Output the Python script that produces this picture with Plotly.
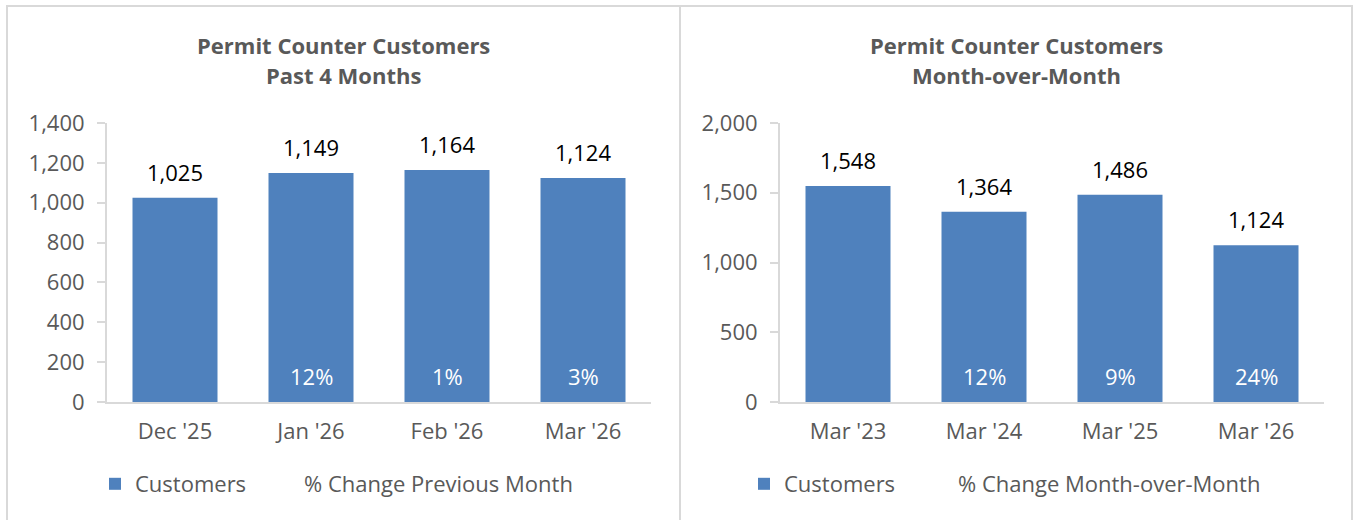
import plotly.graph_objects as go

# ---- data ----
left_categories = ["Dec '25", "Jan '26", "Feb '26", "Mar '26"]
left_customers = [1025, 1149, 1164, 1124]
left_pct_labels = ["", "12%", "1%", "3%"]

right_categories = ["Mar '23", "Mar '24", "Mar '25", "Mar '26"]
right_customers = [1548, 1364, 1486, 1124]
right_pct_labels = ["", "12%", "9%", "24%"]

left_title = ["Permit Counter Customers", "Past 4 Months"]
right_title = ["Permit Counter Customers", "Month-over-Month"]
left_pct_name = "% Change Previous Month"
right_pct_name = "% Change Month-over-Month"

left_range = [0, 1400]
left_dtick = 200
right_range = [0, 2000]
right_dtick = 500

# ---- style ----
BAR = "#4F81BD"
GRAY_TXT = "#595959"
AXIS = "#D9D9D9"
FONT = "Open Sans"
FS = 22
W, H = 1353, 520

fig = go.Figure()

panels = [
    dict(cats=left_categories, vals=left_customers, pct=left_pct_labels, pname=left_pct_name,
         xa="x", ya="y", legs=("legend", "legend2")),
    dict(cats=right_categories, vals=right_customers, pct=right_pct_labels, pname=right_pct_name,
         xa="x2", ya="y2", legs=("legend3", "legend4")),
]

for p in panels:
    fig.add_trace(go.Bar(x=p["cats"], y=p["vals"], name="Customers",
                         marker=dict(color=BAR, line=dict(width=0)),
                         xaxis=p["xa"], yaxis=p["ya"], legend=p["legs"][0], width=0.625,
                         hoverinfo="skip"))
    fig.add_trace(go.Bar(x=p["cats"], y=[None] * len(p["cats"]), name=p["pname"],
                         marker=dict(color="rgba(0,0,0,0)", line=dict(width=0)),
                         xaxis=p["xa"], yaxis=p["ya"],
                         legend=p["legs"][1], hoverinfo="skip"))
    for c, v, t in zip(p["cats"], p["vals"], p["pct"]):
        fig.add_annotation(x=c, y=v, xref=p["xa"], yref=p["ya"], text=f"{v:,}",
                           showarrow=False, yanchor="middle", yshift=26,
                           font=dict(family=FONT, size=FS, color="#000000"))
        if t:
            fig.add_annotation(x=c, y=0, xref=p["xa"], yref=p["ya"], text=t,
                               showarrow=False, yanchor="middle", yshift=26,
                               font=dict(family=FONT, size=FS, color="#FFFFFF"))

# titles
for cx, lines in [((7 + 680) / 2 / W, left_title), ((680 + 1352) / 2 / W, right_title)]:
    for i, line in enumerate(lines):
        fig.add_annotation(x=cx, y=1 - (45 + 30 * i) / H, xref="paper", yref="paper",
                           text=f"<b>{line}</b>", showarrow=False, xanchor="center",
                           yanchor="middle",
                           font=dict(family=FONT, size=FS, color=GRAY_TXT))

# panel borders
fig.add_shape(type="rect", xref="paper", yref="paper", x0=7 / W, x1=1352 / W,
              y0=-0.05, y1=1 - 6 / H, line=dict(color=AXIS, width=2), layer="below")
fig.add_shape(type="line", xref="paper", yref="paper", x0=680 / W, x1=680 / W,
              y0=-0.05, y1=1 - 6 / H, line=dict(color=AXIS, width=2), layer="below")

ydom = [1 - 402 / H, 1 - 123 / H]
axis_common = dict(showline=True, linecolor=AXIS, linewidth=2, showgrid=False,
                   tickfont=dict(family=FONT, size=FS, color=GRAY_TXT), zeroline=False,
                   fixedrange=True, automargin=False)
yaxis_common = dict(tickformat=",", ticks="outside", ticklen=8, tickcolor=AXIS,
                    tickwidth=2, ticklabelstandoff=8, **axis_common)
legend_common = dict(orientation="h", y=1 - 484 / H, xanchor="left", yanchor="middle",
                     font=dict(family=FONT, size=FS, color=GRAY_TXT),
                     bgcolor="rgba(0,0,0,0)", itemclick=False, itemdoubleclick=False)

fig.update_layout(
    width=W, height=H, margin=dict(l=0, r=0, t=0, b=0, autoexpand=False), autosize=False,
    paper_bgcolor="white", plot_bgcolor="white", barmode="overlay",
    showlegend=True,
    xaxis=dict(domain=[107 / W, 651 / W], anchor="y", ticks="", ticklabelstandoff=9,
               **axis_common),
    yaxis=dict(domain=ydom, anchor="x", range=left_range, dtick=left_dtick, **yaxis_common),
    xaxis2=dict(domain=[780 / W, 1324 / W], anchor="y2", ticks="", ticklabelstandoff=9,
                **axis_common),
    yaxis2=dict(domain=ydom, anchor="x2", range=right_range, dtick=right_dtick,
                **yaxis_common),
    legend=dict(x=95 / W, **legend_common),
    legend2=dict(x=264 / W, **legend_common),
    legend3=dict(x=744 / W, **legend_common),
    legend4=dict(x=918 / W, **legend_common),
)

fig.write_html(
    "out.html",
    config={"displayModeBar": False},
    post_script="document.documentElement.style.overflow='hidden';"
                "document.body.style.margin='0';document.body.style.overflow='hidden';",
)
